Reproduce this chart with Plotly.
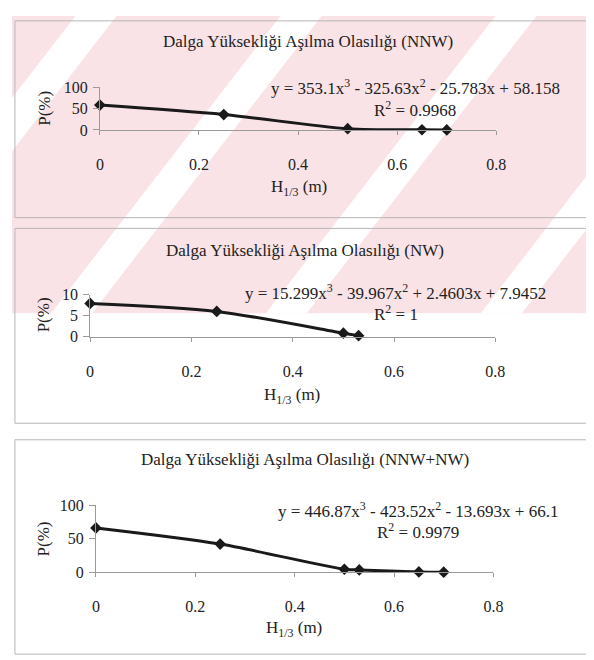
import plotly.graph_objects as go

W, H = 594, 660

# data
h_nnw = [0, 0.25, 0.5, 0.65, 0.7]
p_nnw = [58, 36, 3, 0.5, 0.2]

h_nw = [0, 0.25, 0.5, 0.53]
p_nw = [7.9, 6.0, 0.8, 0.2]

h_all = [0, 0.25, 0.5, 0.53, 0.65, 0.7]
p_all = [66, 42, 4.5, 3.5, 0.5, 0.2]

titles = ["Dalga Yüksekliği Aşılma Olasılığı (NNW)",
          "Dalga Yüksekliği Aşılma Olasılığı (NW)",
          "Dalga Yüksekliği Aşılma Olasılığı (NNW+NW)"]
equations = ["y = 353.1x<sup>3</sup> - 325.63x<sup>2</sup> - 25.783x + 58.158",
             "y = 15.299x<sup>3</sup> - 39.967x<sup>2</sup> + 2.4603x + 7.9452",
             "y = 446.87x<sup>3</sup> - 423.52x<sup>2</sup> - 13.693x + 66.1"]
r2_labels = ["R<sup>2</sup> = 0.9968", "R<sup>2</sup> = 1", "R<sup>2</sup> = 0.9979"]
y_ticks = [[0, 50, 100], [0, 5, 10], [0, 50, 100]]
y_max = [100, 10, 100]

FONT = "Liberation Serif, Times New Roman, serif"
INK = "#222222"
AXIS = "#9a9a9a"


def px(x):
    return x / W


def py(y):
    return 1 - y / H


# pixel layout of each panel (plot box and text positions)
panels = [
    dict(x0=90, x1=496, yb=117, yt=73, title_y=26, title_x=303,
         eq_x=413, eq_y=73, r2_y=95, xt_y=177, xt_x=294, yt_x=33, yt_y=95,
         box=(5, 207)),
    dict(x0=80, x1=495, yb=329, yt=286, title_x=300, title_y=241,
         eq_x=393, eq_y=283, r2_y=305, xt_y=390, xt_x=287, yt_x=32, yt_y=307,
         box=(218, 418)),
    dict(x0=86, x1=493, yb=571, yt=502, title_x=300, title_y=455,
         eq_x=416, eq_y=507, r2_y=529, xt_y=629, xt_x=289, yt_x=32, yt_y=537,
         box=(435, 655)),
]
series = [(h_nnw, p_nnw), (h_nw, p_nw), (h_all, p_all)]

fig = go.Figure()

shapes = []
# faint pink watermark of the scan
shapes.append(dict(type="rect", xref="paper", yref="paper", x0=0, x1=1,
                   y0=py(305), y1=1, fillcolor="#fae3e6", line_width=0,
                   layer="below"))
for xb in [-170, 40, 260, 480]:
    d = 235
    path = "M {} {} L {} {} L {} {} L {} {} Z".format(
        px(xb), py(305), px(xb + 42), py(305),
        px(xb + 42 + d), py(0), px(xb + d), py(0))
    shapes.append(dict(type="path", xref="paper", yref="paper", path=path,
                       fillcolor="white", line_width=0, layer="below"))

annotations = []
for i, (p, (hx, hy)) in enumerate(zip(panels, series)):
    n = "" if i == 0 else str(i + 1)
    fig.add_trace(go.Scatter(
        x=hx, y=hy, xaxis="x" + n, yaxis="y" + n, mode="lines+markers",
        line=dict(color="#1a1a1a", width=3, shape="spline", smoothing=0.8),
        marker=dict(symbol="diamond", size=9, color="#1a1a1a"),
        cliponaxis=False, showlegend=False))

    fig.layout["xaxis" + n] = dict(
        domain=[px(p["x0"]), px(p["x1"])], range=[0, 0.8], anchor="y" + n,
        tickvals=[0, 0.2, 0.4, 0.6, 0.8], ticktext=["0", "0.2", "0.4", "0.6", "0.8"],
        showline=True, linecolor=AXIS, linewidth=1, ticks="outside", ticklen=4,
        tickcolor=AXIS, showgrid=False, zeroline=False, ticklabelstandoff=16,
        tickfont=dict(family=FONT, size=16, color=INK), fixedrange=True)
    fig.layout["yaxis" + n] = dict(
        domain=[py(p["yb"]), py(p["yt"])], range=[0, y_max[i]], anchor="x" + n,
        tickvals=y_ticks[i], showline=True, linecolor=AXIS, linewidth=1,
        ticks="outside", ticklen=6, tickcolor=AXIS, showgrid=False,
        zeroline=False, ticklabelstandoff=2,
        tickfont=dict(family=FONT, size=16, color=INK), fixedrange=True)

    annotations += [
        dict(text=titles[i], x=px(p["title_x"]), y=py(p["title_y"]),
             font=dict(size=17)),
        dict(text=equations[i], x=px(p["eq_x"]), y=py(p["eq_y"]),
             font=dict(size=17)),
        dict(text=r2_labels[i], x=px(p["eq_x"]), y=py(p["r2_y"]),
             font=dict(size=17)),
        dict(text="H<sub>1/3</sub> (m)", x=px(p["xt_x"]), y=py(p["xt_y"]),
             font=dict(size=17)),
        dict(text="P(%)", x=px(p["yt_x"]), y=py(p["yt_y"]), textangle=-90,
             font=dict(size=17)),
    ]
    b0, b1 = p["box"]
    shapes.append(dict(type="rect", xref="paper", yref="paper",
                       x0=px(3), x1=px(600), y0=py(b1), y1=py(b0),
                       line=dict(color="#b5b5b5", width=1), layer="below"))

for a in annotations:
    a.update(xref="paper", yref="paper", showarrow=False,
             xanchor="center", yanchor="middle")
    a["font"].update(family=FONT, color=INK)

fig.update_layout(
    width=W, height=H, margin=dict(l=0, r=0, t=0, b=0),
    paper_bgcolor="white", plot_bgcolor="rgba(0,0,0,0)",
    font=dict(family=FONT, color=INK),
    shapes=shapes, annotations=annotations, showlegend=False)

fig.write_html("out.html")
